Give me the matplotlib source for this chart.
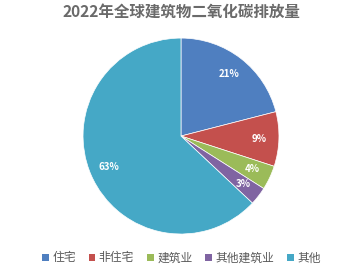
import matplotlib.pyplot as plt
from matplotlib.patches import Patch

plt.rcParams['font.family'] = ['Noto Sans CJK SC', 'DejaVu Sans']

# 2022 global building CO2 emissions share
categories = ['住宅', '非住宅', '建筑业', '其他建筑业', '其他']
shares = [21, 9, 4, 3, 63]
colors = ['#4f7fc0', '#c4504d', '#9bbb59', '#8064a2', '#45a8c6']
title = '2022年全球建筑物二氧化碳排放量'

fig = plt.figure(figsize=(3.63, 2.71), dpi=100)
fig.patch.set_facecolor('white')

ax = fig.add_axes([0.2286, 0.1365, 0.54, 0.723])
wedges, texts, autotexts = ax.pie(
    shares, colors=colors, startangle=90, counterclock=False,
    autopct='%d%%', pctdistance=0.8,
    wedgeprops=dict(edgecolor='white', linewidth=0.5),
    textprops=dict(color='white', fontsize=7, fontweight='bold'))
ax.set_xlim(-1, 1)
ax.set_ylim(-1, 1)
ax.set_aspect('equal')

fig.text(0.5, 0.955, title, ha='center', va='center', fontsize=11.2,
         fontweight='bold', color='#6a6a6a')

handles = [Patch(facecolor=c, edgecolor='none') for c in colors]
fig.legend(handles, categories, loc='center', bbox_to_anchor=(0.5, 0.048),
           ncol=5, frameon=False, fontsize=8.5, labelcolor='#595959',
           handlelength=0.55, handleheight=0.55, handletextpad=0.3,
           columnspacing=1.1)

fig.savefig('out.png', dpi=100)
